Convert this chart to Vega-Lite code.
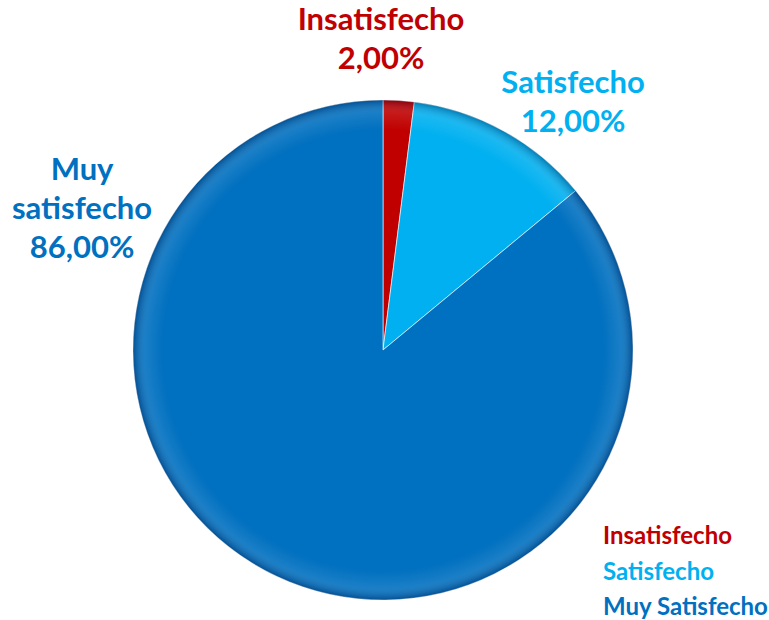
{
  "$schema": "https://vega.github.io/schema/vega-lite/v6.json",
  "width": 766,
  "height": 540,
  "autosize": "none",
  "padding": {"top": 80, "left": 0, "right": 3, "bottom": 0},
  "background": "white",
  "config": {"view": {"stroke": null}, "font": "Lato"},
  "data": {
    "values": [
      {"categoria": "Insatisfecho", "etiqueta": "Insatisfecho", "porcentaje": 2, "orden": 1},
      {"categoria": "Satisfecho", "etiqueta": "Satisfecho", "porcentaje": 12, "orden": 2},
      {"categoria": "Muy Satisfecho", "etiqueta": "Muy\nsatisfecho", "porcentaje": 86, "orden": 3}
    ]
  },
  "layer": [
    {
      "mark": {"type": "arc", "radius": 250, "stroke": "white", "strokeWidth": 0.6},
      "encoding": {
        "theta": {"field": "porcentaje", "type": "quantitative", "stack": true},
        "order": {"field": "orden", "type": "quantitative"},
        "color": {
          "field": "categoria",
          "type": "nominal",
          "scale": {
            "domain": ["Insatisfecho", "Satisfecho", "Muy Satisfecho"],
            "range": ["#C00000", "#00B0F0", "#0070C0"]
          },
          "legend": {
            "orient": "none",
            "legendX": 579,
            "legendY": 445,
            "title": null,
            "symbolSize": 0,
            "symbolOpacity": 0,
            "symbolStrokeWidth": 0,
            "labelOffset": 0,
            "labelFont": "Lato",
            "labelFontWeight": "bold",
            "labelFontSize": 24,
            "labelColor": {"expr": "scale('color', datum.value)"},
            "rowPadding": 11.5,
            "padding": 0,
            "labelLimit": 300
          }
        }
      }
    },
    {
      "data": {"values": [{"k": 1}]},
      "mark": {
        "type": "arc",
        "radius": 250,
        "theta": 0,
        "theta2": 6.2832,
        "fill": {
          "gradient": "radial",
          "x1": 0.5, "y1": 0.5, "r1": 0,
          "x2": 0.5, "y2": 0.5, "r2": 0.5,
          "stops": [
            {"offset": 0, "color": "rgba(255,255,255,0)"},
            {"offset": 0.88, "color": "rgba(255,255,255,0)"},
            {"offset": 0.95, "color": "rgba(255,255,255,0.10)"},
            {"offset": 1, "color": "rgba(0,0,40,0.30)"}
          ]
        }
      },
      "encoding": {}
    },
    {
      "transform": [
        {"filter": "datum.categoria === 'Insatisfecho'"},
        {"calculate": "datum.etiqueta + '\\n' + replace(format(datum.porcentaje, '.2f'), '.', ',') + '%'", "as": "texto"}
      ],
      "mark": {"type": "text", "theta": -0.0061, "radius": 329, "fontWeight": "bold", "fontSize": 31, "lineHeight": 39, "lineBreak": "\n", "align": "center", "baseline": "middle"},
      "encoding": {
        "text": {"field": "texto", "type": "nominal"},
        "color": {"field": "categoria", "type": "nominal", "legend": null}
      }
    },
    {
      "transform": [
        {"filter": "datum.categoria === 'Satisfecho'"},
        {"calculate": "datum.etiqueta + '\\n' + replace(format(datum.porcentaje, '.2f'), '.', ',') + '%'", "as": "texto"}
      ],
      "mark": {"type": "text", "theta": 0.6212, "radius": 326.5, "fontWeight": "bold", "fontSize": 31, "lineHeight": 39, "lineBreak": "\n", "align": "center", "baseline": "middle"},
      "encoding": {
        "text": {"field": "texto", "type": "nominal"},
        "color": {"field": "categoria", "type": "nominal", "legend": null}
      }
    },
    {
      "transform": [
        {"filter": "datum.categoria === 'Muy Satisfecho'"},
        {"calculate": "datum.etiqueta + '\\n' + replace(format(datum.porcentaje, '.2f'), '.', ',') + '%'", "as": "texto"}
      ],
      "mark": {"type": "text", "theta": -1.035, "radius": 350, "fontWeight": "bold", "fontSize": 31, "lineHeight": 39, "lineBreak": "\n", "align": "center", "baseline": "middle"},
      "encoding": {
        "text": {"field": "texto", "type": "nominal"},
        "color": {"field": "categoria", "type": "nominal", "legend": null}
      }
    }
  ]
}
